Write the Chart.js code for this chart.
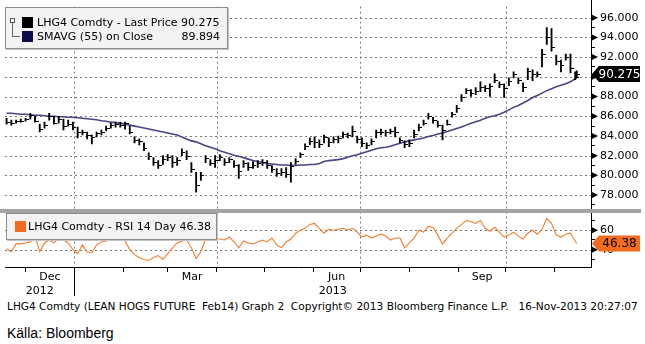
<!DOCTYPE html>
<html>
<head>
<meta charset="utf-8">
<script src="https://cdn.jsdelivr.net/npm/chart.js@4.4.0/dist/chart.umd.min.js"></script>
<style>
html,body{margin:0;padding:0;background:#fff;width:645px;height:344px;overflow:hidden;}
#wrap{position:absolute;left:0;top:0;width:645px;height:300px;}
.bb{font-family:"DejaVu Sans",sans-serif;font-size:11px;color:#000;line-height:13px;}
.legend{position:absolute;background:#f3f3f3;border:1px solid #8c8c8c;box-shadow:1px 1px 0 #c4c4c4;box-sizing:border-box;}
.legend .sw{position:absolute;width:11px;height:11px;}
.legend .txt{position:absolute;white-space:pre;}
#tree-box{position:absolute;left:4px;top:10px;width:5px;height:5px;border:1px solid #555;background:#fff;box-sizing:border-box;}
#tree-v{position:absolute;left:6px;top:15px;width:1px;height:14px;background:#666;}
#tree-h{position:absolute;left:6px;top:28px;width:8px;height:1px;background:#666;}
#footer{position:absolute;left:7px;top:300px;white-space:pre;display:inline-block;}
#source{position:absolute;left:7px;top:325px;font-family:"Liberation Sans",Arial,sans-serif;font-size:14px;color:#000;white-space:pre;}
</style>
</head>
<body>
<div id="wrap"><canvas id="c" width="645" height="300"></canvas></div>

<div class="legend bb" style="left:5px;top:7px;width:223px;height:42px;">
  <div id="tree-box"></div><div id="tree-v"></div><div id="tree-h"></div>
  <div class="sw" style="left:16px;top:9px;background:#000;"></div>
  <div class="txt" style="left:31px;top:8px;" id="leg-price"></div>
  <div class="sw" style="left:16px;top:23px;background:#0c0c4a;"></div>
  <div class="txt" style="left:31px;top:22px;" id="leg-sma-name"></div>
  <div class="txt" style="right:7px;top:22px;" id="leg-sma-val"></div>
</div>

<div class="legend bb" style="left:6px;top:213px;width:211px;height:27px;">
  <div class="sw" style="left:8px;top:7px;background:#f26b1f;"></div>
  <div class="txt" style="left:21px;top:6px;" id="leg-rsi"></div>
</div>

<div id="footer" class="bb">LHG4 Comdty (LEAN HOGS FUTURE  Feb14) Graph 2  Copyright© 2013 Bloomberg Finance L.P.   16-Nov-2013 20:27:07</div>
<div id="source">Källa: Bloomberg</div>

<script>
// ---------------- DATA ----------------
const dates = [
'2012-11-19','2012-11-22','2012-11-25','2012-11-28','2012-12-01','2012-12-04','2012-12-07','2012-12-10','2012-12-13','2012-12-16',
'2012-12-19','2012-12-22','2012-12-25','2012-12-28','2012-12-31','2013-01-03','2013-01-06','2013-01-09','2013-01-12','2013-01-15',
'2013-01-18','2013-01-21','2013-01-24','2013-01-27','2013-01-30','2013-02-02','2013-02-05','2013-02-08','2013-02-11','2013-02-14',
'2013-02-17','2013-02-20','2013-02-23','2013-02-26','2013-03-01','2013-03-04','2013-03-07','2013-03-10','2013-03-13','2013-03-16',
'2013-03-19','2013-03-22','2013-03-25','2013-03-28','2013-03-31','2013-04-03','2013-04-06','2013-04-09','2013-04-12','2013-04-15',
'2013-04-18','2013-04-21','2013-04-24','2013-04-27','2013-04-30','2013-05-03','2013-05-06','2013-05-09','2013-05-12','2013-05-15',
'2013-05-18','2013-05-21','2013-05-24','2013-05-27','2013-05-30','2013-06-02','2013-06-05','2013-06-08','2013-06-11','2013-06-14',
'2013-06-17','2013-06-20','2013-06-23','2013-06-26','2013-06-29','2013-07-02','2013-07-05','2013-07-08','2013-07-11','2013-07-14',
'2013-07-17','2013-07-20','2013-07-23','2013-07-26','2013-07-29','2013-08-01','2013-08-04','2013-08-07','2013-08-10','2013-08-13',
'2013-08-16','2013-08-19','2013-08-22','2013-08-25','2013-08-28','2013-08-31','2013-09-03','2013-09-06','2013-09-09','2013-09-12',
'2013-09-15','2013-09-18','2013-09-21','2013-09-24','2013-09-27','2013-09-30','2013-10-03','2013-10-06','2013-10-09','2013-10-12',
'2013-10-15','2013-10-18','2013-10-21','2013-10-24','2013-10-27','2013-10-30','2013-11-02','2013-11-05','2013-11-08','2013-11-11',
'2013-11-14','2013-11-15'
];

const highs = [
85.8,85.6,85.6,85.7,85.8,86.3,86.0,85.2,85.4,86.3,
86.0,86.0,85.7,85.6,85.4,84.9,84.6,84.4,84.1,84.4,
84.6,85.0,85.3,85.4,85.4,85.4,85.0,83.9,83.7,83.3,
82.3,81.8,81.5,82.0,82.1,82.0,81.8,82.7,82.5,81.3,
80.3,80.3,82.0,81.6,82.0,82.1,81.7,81.8,81.5,81.1,
81.5,81.3,81.4,81.5,81.6,81.5,81.0,80.7,80.7,80.8,
81.3,81.7,82.3,83.2,83.8,83.9,83.6,84.1,83.8,83.9,
84.0,84.4,84.3,85.0,84.0,83.8,83.3,83.7,84.6,84.7,
84.6,84.7,84.9,83.8,83.5,83.6,84.6,85.2,85.6,86.3,
85.9,85.5,85.1,85.6,86.4,87.1,88.2,88.8,88.7,88.9,
89.5,89.1,89.3,90.3,89.5,89.3,89.9,90.5,89.9,89.4,
90.9,90.7,90.5,92.8,95.0,94.9,92.2,91.7,92.3,92.3,
90.5,90.6
];

const lows = [
85.2,85.1,85.3,85.4,85.5,85.7,85.4,84.4,84.8,85.6,
85.2,85.3,84.6,85.0,84.6,83.8,84.1,83.7,83.2,83.9,
84.1,84.5,84.8,84.9,84.9,84.7,84.2,83.3,83.1,82.5,
81.6,81.0,80.7,81.1,81.5,80.8,81.0,82.0,81.6,80.3,
78.3,79.5,81.3,81.0,80.8,81.5,81.0,81.3,80.8,79.7,
80.8,80.5,80.7,80.8,81.0,80.7,80.3,79.9,80.0,79.8,
79.3,81.1,81.8,82.6,83.1,82.8,82.8,83.3,82.9,83.3,
83.3,83.8,83.8,83.9,83.3,82.9,82.7,83.1,83.8,84.1,
84.0,84.2,83.9,83.3,82.8,82.9,83.8,84.5,85.1,85.7,
85.3,84.9,83.6,85.1,85.9,86.4,87.5,88.3,88.0,88.2,
88.5,88.5,88.0,89.4,88.9,87.9,89.1,89.9,89.3,88.5,
89.7,89.6,90.0,91.0,93.3,92.6,91.2,90.5,91.7,90.4,
89.7,89.9
];

const closes = [
85.4,85.3,85.5,85.5,85.7,86.1,85.5,84.7,85.1,86.0,
85.3,85.7,85.0,85.2,84.9,84.4,84.3,84.0,83.8,84.2,
84.4,84.8,85.1,85.2,85.1,85.3,84.4,83.5,83.4,82.7,
81.9,81.3,81.0,81.6,81.8,81.3,81.5,82.3,81.9,80.6,
79.0,80.0,81.7,81.2,81.5,81.8,81.3,81.6,81.0,80.4,
81.2,80.8,81.0,81.2,81.3,81.0,80.6,80.2,80.3,80.1,
80.9,81.4,82.1,82.9,83.4,83.3,83.1,83.8,83.3,83.6,
83.7,84.1,84.0,84.5,83.6,83.2,83.0,83.4,84.3,84.4,
84.4,84.5,84.3,83.5,83.1,83.2,84.1,84.9,85.3,86.0,
85.6,85.1,84.6,85.2,86.2,86.8,87.9,88.6,88.3,88.5,
88.9,88.8,89.0,89.6,89.2,88.8,89.5,90.2,89.6,88.9,
90.5,90.2,90.2,92.3,94.0,93.0,91.6,91.2,92.0,90.8,
89.9,90.275
];

const sma55 = [
86.3,86.3,86.25,86.2,86.2,86.15,86.1,86.1,86.05,86.0,
86.0,85.95,85.95,85.9,85.9,85.85,85.8,85.75,85.7,85.65,
85.55,85.5,85.4,85.35,85.3,85.2,85.1,85.0,84.9,84.8,
84.7,84.6,84.5,84.4,84.3,84.2,84.1,83.9,83.7,83.5,
83.4,83.2,83.0,82.85,82.7,82.5,82.35,82.2,82.05,81.95,
81.8,81.65,81.5,81.4,81.3,81.2,81.15,81.1,81.05,81.05,
81.0,81.0,81.05,81.05,81.1,81.1,81.2,81.4,81.5,81.55,
81.6,81.7,81.85,82.0,82.1,82.25,82.4,82.55,82.7,82.8,
82.85,82.95,83.1,83.25,83.4,83.5,83.6,83.7,83.8,83.95,
84.05,84.2,84.3,84.45,84.6,84.75,84.9,85.1,85.3,85.45,
85.6,85.8,85.95,86.05,86.2,86.4,86.65,86.9,87.1,87.35,
87.6,87.9,88.1,88.35,88.6,88.8,89.0,89.15,89.3,89.5,
89.8,89.894
];

const rsi14 = [
41,38,46,46,47,48,54,38,47,50,
47,52,50,47,40,36,45,38,37,45,
48,49,53,56,52,49,40,35,32,30,
29,32,34,30,36,42,47,49,50,42,
31,38,51,52,52,51,50,53,48,42,
49,47,46,48,50,48,52,45,42,48,
51,57,60,62,66,67,62,57,61,60,
61,62,60,62,58,53,55,52,54,56,
54,50,52,52,42,47,52,60,58,64,
63,55,46,52,57,62,66,70,69,67,
70,62,59,63,58,53,55,58,54,51,
57,60,56,61,72,67,55,53,56,57,
49,46.38
];

const priceTickLabels = [78, 80, 82, 84, 86, 88, 90, 92, 94, 96];
const rsiTickLabels = [40, 60];
const monthLabelNames = ['Dec', 'Mar', 'Jun', 'Sep'];
const monthLabelStarts = ['2012-12-01', '2013-03-01', '2013-06-01', '2013-09-01'];
const yearLabels = ['2012', '2013'];
const yearStarts = ['2012-01-01', '2013-01-01'];
const axisStart = '2012-11-18';
const axisEnd = '2013-11-24';
const priceRange = [76.34, 96.62];
const rsiRange = [22.3, 79.3];

const priceName = 'LHG4 Comdty - Last Price';
const smaName = 'SMAVG (55) on Close';
const rsiName = 'LHG4 Comdty - RSI 14 Day';

// ---------------- HELPERS ----------------
const DAY0 = Date.UTC(2013, 0, 1);
function toDay(s) {
  const p = s.split('-').map(Number);
  return (Date.UTC(p[0], p[1] - 1, p[2]) - DAY0) / 86400000;
}
function nextMonthDay(s) {
  const p = s.split('-').map(Number);
  return (Date.UTC(p[0], p[1], 1) - DAY0) / 86400000;
}
const xs = dates.map(toDay);
const X_MIN = toDay(axisStart), X_MAX = toDay(axisEnd);
const last = closes.length - 1;

const monthStarts = [];
const quarterStarts = [];
for (let i = 0; i < 16; i++) {
  const d = new Date(Date.UTC(2012, 10 + i, 1));
  const v = (d.getTime() - DAY0) / 86400000;
  if (v > X_MIN && v < X_MAX) {
    monthStarts.push(v);
    if (d.getUTCMonth() % 3 === 0) quarterStarts.push(v);
  }
}
const monthLabelCenters = monthLabelStarts.map(s => (toDay(s) + nextMonthDay(s)) / 2);
const yearCenters = yearStarts.map(s => {
  const a = Math.max(toDay(s), X_MIN);
  const p = s.split('-').map(Number);
  const b = Math.min((Date.UTC(p[0] + 1, 0, 1) - DAY0) / 86400000, X_MAX);
  return (a + b) / 2;
});

document.getElementById('leg-price').textContent = priceName + ' ' + closes[last].toFixed(3);
document.getElementById('leg-sma-name').textContent = smaName;
document.getElementById('leg-sma-val').textContent = sma55[last].toFixed(3);
document.getElementById('leg-rsi').textContent = rsiName + ' ' + rsi14[last].toFixed(2);

(function () {
  const f = document.getElementById('footer');
  const w = f.getBoundingClientRect().width;
  if (w > 0) f.style.fontSize = (11 * 631 / w).toFixed(2) + 'px';
})();

const closeTick = (function () {
  const cv = document.createElement('canvas');
  cv.width = 7; cv.height = 1;
  const g = cv.getContext('2d');
  g.fillStyle = '#000';
  g.fillRect(4, 0, 3, 1);
  return cv;
})();

// ---------------- CHART ----------------
Chart.defaults.font.family = '"DejaVu Sans", sans-serif';
Chart.defaults.font.size = 11;
Chart.defaults.color = '#000';

const GRID = '#7a7a7a';
const AXIS_W = 54;

const decor = {
  id: 'decor',
  beforeDatasetsDraw(chart) {
    // dotted grid (Bloomberg style)
    const ctx = chart.ctx;
    const ca = chart.chartArea;
    const sx = chart.scales.x, sy = chart.scales.y, sr = chart.scales.rsi;
    ctx.save();
    ctx.strokeStyle = GRID;
    ctx.lineWidth = 1;
    ctx.setLineDash([2, 3]);
    ctx.beginPath();
    priceTickLabels.forEach(v => {
      const yy = Math.round(sy.getPixelForValue(v)) + 0.5;
      ctx.moveTo(ca.left, yy); ctx.lineTo(ca.right, yy);
    });
    rsiTickLabels.forEach(v => {
      const yy = Math.round(sr.getPixelForValue(v)) + 0.5;
      ctx.moveTo(ca.left, yy); ctx.lineTo(ca.right, yy);
    });
    ctx.stroke();
    ctx.beginPath();
    quarterStarts.forEach(v => {
      const xx = Math.round(sx.getPixelForValue(v)) + 0.5;
      ctx.moveTo(xx, ca.top - 5); ctx.lineTo(xx, ca.bottom);
    });
    ctx.stroke();
    ctx.restore();
  },
  afterDatasetsDraw(chart) {
    const ctx = chart.ctx;
    const py = chart.scales.y;
    ctx.save();
    ctx.fillStyle = '#a4a4a4';
    ctx.fillRect(0, Math.round(py.bottom) - 2, 641, 4);
    ctx.restore();
  },
  afterDraw(chart) {
    const ctx = chart.ctx;
    const ca = chart.chartArea;
    const sx = chart.scales.x, sy = chart.scales.y, sr = chart.scales.rsi;
    const ax = Math.round(sy.left);
    ctx.save();
    ctx.strokeStyle = '#000';
    ctx.lineWidth = 1;
    ctx.beginPath();
    ctx.moveTo(ax + 0.5, 0);
    ctx.lineTo(ax + 0.5, ca.top);
    ctx.stroke();

    ctx.fillStyle = '#000';
    const tri = yy => {
      ctx.beginPath();
      ctx.moveTo(ax, yy - 3.5);
      ctx.lineTo(ax + 7, yy);
      ctx.lineTo(ax, yy + 3.5);
      ctx.closePath();
      ctx.fill();
    };
    priceTickLabels.forEach(v => tri(sy.getPixelForValue(v)));
    rsiTickLabels.forEach(v => tri(sr.getPixelForValue(v)));

    const jx = Math.round(sx.getPixelForValue(toDay('2013-01-01'))) + 0.5;
    ctx.beginPath();
    ctx.moveTo(jx, ca.bottom);
    ctx.lineTo(jx, ca.bottom + 29);
    ctx.stroke();

    const flag = (yy, fill, color, text) => {
      ctx.fillStyle = fill;
      ctx.beginPath();
      ctx.moveTo(ax + 1, yy);
      ctx.lineTo(ax + 8, yy - 8);
      ctx.lineTo(640, yy - 8);
      ctx.lineTo(640, yy + 8);
      ctx.lineTo(ax + 8, yy + 8);
      ctx.closePath();
      ctx.fill();
      ctx.fillStyle = color;
      ctx.font = '12px "DejaVu Sans", sans-serif';
      ctx.textAlign = 'center';
      ctx.textBaseline = 'middle';
      ctx.fillText(text, (ax + 8 + 640) / 2, yy + 0.5);
    };
    flag(sy.getPixelForValue(closes[last]), '#000', '#fff', closes[last].toFixed(3));
    flag(sr.getPixelForValue(rsi14[last]), '#f26b1f', '#000', rsi14[last].toFixed(2));
    ctx.restore();
  }
};

new Chart(document.getElementById('c'), {
  type: 'line',
  data: {
    datasets: [
      {
        type: 'bar',
        label: 'High-Low',
        data: xs.map((x, i) => ({ x: x, y: [lows[i], highs[i]] })),
        xAxisID: 'x', yAxisID: 'y',
        backgroundColor: '#000',
        borderWidth: 0,
        barThickness: 1.2
      },
      {
        type: 'line',
        label: 'Close',
        data: xs.map((x, i) => ({ x: x, y: closes[i] })),
        xAxisID: 'x', yAxisID: 'y',
        showLine: false,
        pointStyle: closeTick,
        pointRadius: 3
      },
      {
        type: 'line',
        label: smaName,
        data: xs.map((x, i) => ({ x: x, y: sma55[i] })),
        xAxisID: 'x', yAxisID: 'y',
        borderColor: '#45458a',
        borderWidth: 1.6,
        pointRadius: 0,
        tension: 0
      },
      {
        type: 'line',
        label: rsiName,
        data: xs.map((x, i) => ({ x: x, y: rsi14[i] })),
        xAxisID: 'x', yAxisID: 'rsi',
        borderColor: '#f47c2c',
        borderWidth: 1.1,
        pointRadius: 0,
        tension: 0
      }
    ]
  },
  options: {
    responsive: false,
    animation: false,
    devicePixelRatio: 1,
    events: [],
    layout: { padding: { left: 5, top: 5, right: 0, bottom: 3 } },
    plugins: { legend: { display: false }, tooltip: { enabled: false } },
    scales: {
      x: {
        type: 'linear', position: 'bottom', weight: 0,
        min: X_MIN, max: X_MAX, offset: false,
        afterBuildTicks: s => { s.ticks = monthStarts.map(v => ({ value: v })); },
        ticks: { display: false, autoSkip: false },
        grid: { offset: false, drawOnChartArea: false, tickColor: '#000', tickLength: 5, lineWidth: 1 },
        border: { display: true, color: '#000', width: 1 },
        afterFit: s => { s.height = 3; }
      },
      xl: {
        type: 'linear', position: 'bottom', weight: 1,
        min: X_MIN, max: X_MAX, offset: false,
        afterBuildTicks: s => { s.ticks = monthLabelCenters.map(v => ({ value: v })); },
        ticks: { autoSkip: false, maxRotation: 0, padding: 1, callback: (v, i) => monthLabelNames[i] },
        grid: { display: false, drawTicks: false },
        border: { display: false },
        afterFit: s => { s.height = 13; }
      },
      xy: {
        type: 'linear', position: 'bottom', weight: 2,
        min: X_MIN, max: X_MAX, offset: false,
        afterBuildTicks: s => { s.ticks = yearCenters.map(v => ({ value: v })); },
        ticks: { autoSkip: false, maxRotation: 0, padding: 2, callback: (v, i) => yearLabels[i] },
        grid: { display: false, drawTicks: false },
        border: { display: false },
        afterFit: s => { s.height = 14; }
      },
      y: {
        type: 'linear', position: 'right', stack: 'panels', stackWeight: 205,
        min: priceRange[0], max: priceRange[1],
        afterBuildTicks: s => {
          const t = [];
          for (let v = Math.ceil(priceRange[0]); v <= Math.floor(priceRange[1]); v++) t.push({ value: v });
          s.ticks = t;
        },
        ticks: {
          autoSkip: false, padding: 5,
          callback: v => priceTickLabels.includes(v) ? v.toFixed(3) : ''
        },
        grid: { drawOnChartArea: false, tickColor: '#000', tickLength: 4, lineWidth: 1 },
        border: { display: true, color: '#000', width: 1 },
        afterFit: s => { s.width = AXIS_W; }
      },
      rsi: {
        type: 'linear', position: 'right', stack: 'panels', stackWeight: 57,
        min: rsiRange[0], max: rsiRange[1],
        afterBuildTicks: s => { s.ticks = [30, 40, 50, 60, 70].map(v => ({ value: v })); },
        ticks: {
          autoSkip: false, padding: 5,
          callback: v => rsiTickLabels.includes(v) ? String(v) : ''
        },
        grid: { drawOnChartArea: false, tickColor: '#000', tickLength: 4, lineWidth: 1 },
        border: { display: true, color: '#000', width: 1 },
        afterFit: s => { s.width = AXIS_W; }
      }
    }
  },
  plugins: [decor]
});
</script>
</body>
</html>
